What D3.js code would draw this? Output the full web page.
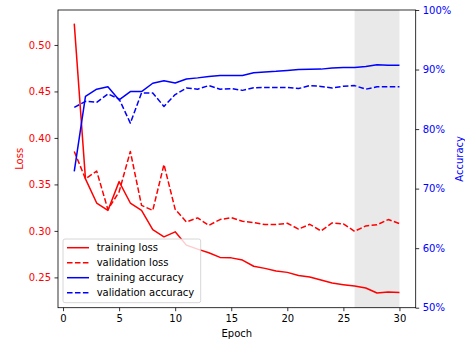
<!DOCTYPE html>
<html>
<head>
<meta charset="utf-8">
<script src="https://cdn.jsdelivr.net/npm/d3@7"></script>
<style>
body{margin:0;background:#fff;}
svg{display:block;font-family:"DejaVu Sans",sans-serif;}
</style>
</head>
<body>
<script>
var epochs=[1,2,3,4,5,6,7,8,9,10,11,12,13,14,15,16,17,18,19,20,21,22,23,24,25,26,27,28,29,30];
var trainLoss=[0.523,0.356,0.330,0.322,0.353,0.330,0.322,0.3015,0.2936,0.299,0.2847,0.2804,0.2765,0.2715,0.271,0.2686,0.262,0.2597,0.2568,0.2554,0.252,0.2504,0.2471,0.2439,0.2422,0.2407,0.2386,0.2332,0.2343,0.2337];
var valLoss=[0.3855,0.356,0.3643,0.323,0.342,0.3855,0.3275,0.322,0.3714,0.3232,0.3097,0.314,0.306,0.3122,0.3143,0.3104,0.309,0.3068,0.3068,0.3082,0.302,0.3071,0.300,0.3086,0.3076,0.2996,0.3054,0.3065,0.3122,0.3079];
var trainAcc=[72.9,85.5,86.7,87.1,84.9,86.3,86.3,87.7,88.1,87.75,88.4,88.6,88.85,89.0,89.0,89.0,89.45,89.6,89.7,89.85,90.0,90.05,90.07,90.24,90.35,90.35,90.5,90.8,90.7,90.7];
var valAcc=[83.65,84.66,84.5,85.9,85.06,81.0,86.06,86.06,83.8,85.8,86.9,86.7,87.3,86.7,86.8,86.5,86.95,87.0,87.0,87.0,86.8,87.3,87.17,86.9,87.2,87.3,86.7,87.1,87.1,87.1];
var lossTicks=[0.25,0.30,0.35,0.40,0.45,0.50];
var accTicks=[50,60,70,80,90,100];
var epochTicks=[0,5,10,15,20,25,30];
var shadedSpan=[26,30];
var legendLabels=["training loss","validation loss","training accuracy","validation accuracy"];

var W=465,H=344;
var L=58,R=415.7,T=10,B=307.7;

var svg=d3.select("body").append("svg").attr("width",W).attr("height",H);

var x=d3.scaleLinear().domain([-0.45,31.45]).range([L,R]);
var yL=d3.scaleLinear().domain([0.2174,0.5376]).range([B,T]);
var yR=d3.scaleLinear().domain([50,100]).range([B,T]);

// shaded region
svg.append("rect")
	.attr("x",x(shadedSpan[0]))
	.attr("y",T)
	.attr("width",x(shadedSpan[1])-x(shadedSpan[0]))
	.attr("height",B-T)
	.attr("fill","#e9e9e9");

function drawLine(vals,yScale,color,dashed){
	var line=d3.line()
		.x(function(d,i){return x(epochs[i]);})
		.y(function(d){return yScale(d);});
	svg.append("path")
		.attr("fill","none")
		.attr("stroke",color)
		.attr("stroke-width",1.5)
		.attr("stroke-linejoin","round")
		.attr("stroke-dasharray",dashed?"5.55,2.4":null)
		.attr("d",line(vals));
}
drawLine(trainLoss,yL,"#ff0000",false);
drawLine(valLoss,yL,"#ff0000",true);
drawLine(trainAcc,yR,"#0000ff",false);
drawLine(valAcc,yR,"#0000ff",true);

// axes
var gx=svg.append("g").attr("transform","translate(0,"+B+")")
	.call(d3.axisBottom(x).tickValues(epochTicks).tickSize(3.5).tickPadding(3.5).tickFormat(d3.format("d")));
var gl=svg.append("g").attr("transform","translate("+L+",0)")
	.call(d3.axisLeft(yL).tickValues(lossTicks).tickSize(3.5).tickPadding(3.5).tickFormat(d3.format(".2f")));
var gr=svg.append("g").attr("transform","translate("+R+",0)")
	.call(d3.axisRight(yR).tickValues(accTicks).tickSize(3.5).tickPadding(3.5).tickFormat(function(d){return d+"%";}));

[gx,gl,gr].forEach(function(g){
	g.select(".domain").remove();
	g.selectAll("line").attr("stroke","#000").attr("stroke-width",0.8);
	g.selectAll("text").attr("font-size",10).attr("font-family","DejaVu Sans");
});
gx.selectAll("text").attr("fill","#000");
gl.selectAll("text").attr("fill","#ff0000");
gr.selectAll("text").attr("fill","#0000ff");

// frame
svg.append("rect").attr("x",L).attr("y",T).attr("width",R-L).attr("height",B-T)
	.attr("fill","none").attr("stroke","#000").attr("stroke-width",0.8);

// axis labels
svg.append("text").attr("x",(L+R)/2).attr("y",337).attr("text-anchor","middle")
	.attr("font-size",10).attr("fill","#000").text("Epoch");
svg.append("text").attr("transform","translate(22.5,"+((T+B)/2)+") rotate(-90)")
	.attr("text-anchor","middle").attr("font-size",10).attr("fill","#ff0000").text("Loss");
svg.append("text").attr("transform","translate(463,"+((T+B)/2)+") rotate(-90)")
	.attr("text-anchor","middle").attr("font-size",10).attr("fill","#0000ff").text("Accuracy");

// legend
var lg=svg.append("g");
lg.append("rect").attr("x",63).attr("y",239).attr("width",137.7).attr("height",63.7)
	.attr("rx",2).attr("fill","#fff").attr("fill-opacity",0.8)
	.attr("stroke","#cccccc").attr("stroke-width",0.8);
var legColors=["#ff0000","#ff0000","#0000ff","#0000ff"];
var legDash=[false,true,false,true];
legendLabels.forEach(function(lab,i){
	var yy=247.7+i*15;
	lg.append("line").attr("x1",67).attr("x2",89).attr("y1",yy).attr("y2",yy)
		.attr("stroke",legColors[i]).attr("stroke-width",1.5)
		.attr("stroke-dasharray",legDash[i]?"5.55,2.4":null);
	lg.append("text").attr("x",96.7).attr("y",yy).attr("dy","0.35em")
		.attr("font-size",10).attr("fill","#000").text(lab);
});
</script>
</body>
</html>
